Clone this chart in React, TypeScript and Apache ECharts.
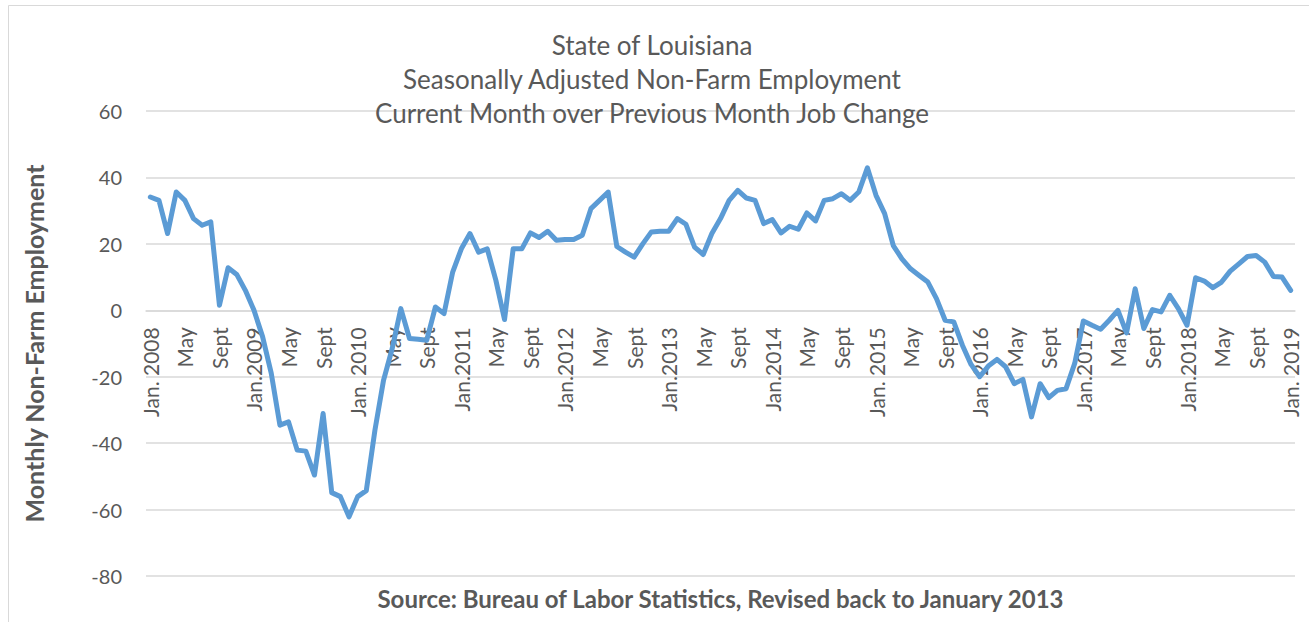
import React, { useEffect, useRef } from "react";
import * as echarts from "echarts";

const titleLines = [
  "State of Louisiana",
  "Seasonally Adjusted Non-Farm Employment",
  "Current Month over Previous Month Job Change",
];
const yAxisName = "Monthly Non-Farm Employment";
const xAxisName = "Source: Bureau of Labor Statistics, Revised back to January 2013";

const yearLabels: Record<number, string> = {
  2008: "Jan. 2008",
  2009: "Jan.2009",
  2010: "Jan. 2010",
  2011: "Jan.2011",
  2012: "Jan.2012",
  2013: "Jan.2013",
  2014: "Jan.2014",
  2015: "Jan. 2015",
  2016: "Jan. 2016",
  2017: "Jan.2017",
  2018: "Jan.2018",
  2019: "Jan. 2019",
};
const monthNames = ["Jan", "Feb", "Mar", "Apr", "May", "June", "July", "Aug", "Sept", "Oct", "Nov", "Dec"];

const categories: string[] = [];
for (let y = 2008; y <= 2019; y++) {
  for (let m = 0; m < 12; m++) {
    if (y === 2019 && m > 0) break;
    categories.push(m === 0 ? yearLabels[y] : monthNames[m]);
  }
}

const values2008 = [34.1, 33.1, 23.1, 35.6, 33.1, 27.6, 25.6, 26.6, 1.5, 12.8, 10.8, 6.0];
const values2009 = [0.0, -8.0, -19.0, -34.6, -33.6, -42.1, -42.4, -49.6, -31.1, -54.9, -56.1, -62.2];
const values2010 = [-56.1, -54.3, -36.1, -21.0, -11.5, 0.5, -8.5, -8.7, -9.0, 1.0, -1.0, 11.5];
const values2011 = [18.5, 23.1, 17.5, 18.5, 9.0, -2.8, 18.5, 18.5, 23.3, 21.9, 23.8, 21.1];
const values2012 = [21.3, 21.3, 22.6, 30.6, 33.1, 35.6, 19.2, 17.5, 16.0, 20.0, 23.6, 23.8];
const values2013 = [23.8, 27.6, 25.9, 19.0, 16.8, 23.1, 27.6, 33.1, 36.1, 33.8, 33.1, 26.1];
const values2014 = [27.3, 23.3, 25.3, 24.4, 29.3, 26.9, 33.1, 33.6, 35.1, 33.1, 35.6, 42.9];
const values2015 = [34.6, 29.1, 19.5, 15.5, 12.5, 10.5, 8.5, 3.5, -3.0, -3.5, -10.5, -16.3];
const values2016 = [-20.0, -16.8, -14.8, -17.0, -22.1, -20.8, -32.1, -22.1, -26.3, -24.1, -23.6, -16.0];
const values2017 = [-3.2, -4.5, -5.7, -3.0, 0.0, -6.8, 6.5, -5.5, 0.2, -0.5, 4.5, 0.5];
const values2018 = [-4.5, 9.8, 8.8, 6.8, 8.5, 11.8, 14.0, 16.2, 16.5, 14.5, 10.2, 10.0];
const values2019 = [6.0];

const values = [
  ...values2008, ...values2009, ...values2010, ...values2011, ...values2012, ...values2013,
  ...values2014, ...values2015, ...values2016, ...values2017, ...values2018, ...values2019,
];

const Y_MIN = -80;
const Y_MAX = 60;

const FONT = "Lato, 'Open Sans', sans-serif";
const GRAY = "#595959";

const GRID_TOP = 111;
const GRID_BOTTOM = 46;
const CHART_H = 622;

export default function App() {
  const ref = useRef<HTMLDivElement>(null);
  useEffect(() => {
    if (!ref.current) return;
    const chart = echarts.init(ref.current, undefined, { renderer: "svg" });
    const gridH = CHART_H - GRID_TOP - GRID_BOTTOM;
    // distance from the bottom of the plot to the zero line, so the category axis sits on 0
    const zeroOffset = (gridH * (0 - Y_MIN)) / (Y_MAX - Y_MIN);
    chart.setOption({
      animation: false,
      backgroundColor: "#ffffff",
      textStyle: { fontFamily: FONT },
      title: {
        text: titleLines.join("\n"),
        left: 647,
        textAlign: "center",
        top: 23,
        textStyle: {
          fontFamily: FONT,
          fontSize: 26,
          fontWeight: "normal",
          color: GRAY,
          lineHeight: 34,
        },
      },
      graphic: [
        {
          type: "rect",
          shape: { x: 8.5, y: 5.5, width: 1320, height: 640 },
          style: { fill: "none", stroke: "#d9d9d9", lineWidth: 1 },
          silent: true,
          z: -1,
        },
      ],
      grid: {
        left: 146,
        right: 14,
        top: GRID_TOP,
        bottom: GRID_BOTTOM,
        containLabel: false,
        outerBoundsMode: "none",
      },
      xAxis: {
        type: "category",
        data: categories,
        boundaryGap: true,
        position: "bottom",
        offset: -zeroOffset,
        name: xAxisName,
        nameLocation: "middle",
        nameGap: 288,
        nameTextStyle: {
          fontFamily: FONT,
          fontSize: 24,
          fontWeight: "bold",
          color: GRAY,
          verticalAlign: "middle",
        },
        axisLine: { onZero: false, lineStyle: { color: "#d9d9d9", width: 1.5 } },
        axisTick: { show: false },
        axisLabel: {
          interval: 3,
          rotate: 90,
          fontFamily: FONT,
          fontSize: 21,
          color: GRAY,
          margin: 17,
          hideOverlap: false,
        },
      },
      yAxis: {
        type: "value",
        min: Y_MIN,
        max: Y_MAX,
        interval: 20,
        name: yAxisName,
        nameLocation: "middle",
        nameGap: 100,
        nameTextStyle: {
          fontFamily: FONT,
          fontSize: 25,
          fontWeight: "bold",
          color: GRAY,
        },
        axisLine: { show: false, onZero: false },
        axisTick: { show: false },
        axisLabel: { fontFamily: FONT, fontSize: 20, color: GRAY, margin: 24 },
        splitLine: { lineStyle: { color: "#d9d9d9", width: 1.5 } },
      },
      series: [
        {
          type: "line",
          data: values,
          symbol: "none",
          lineStyle: { color: "#5b9bd5", width: 5, join: "round", cap: "round" },
          itemStyle: { color: "#5b9bd5" },
          z: 3,
        },
      ],
    });
    return () => chart.dispose();
  }, []);
  return (
    <div
      ref={ref}
      style={{ position: "fixed", left: 0, top: 0, width: 1309, height: 622 }}
    />
  );
}
